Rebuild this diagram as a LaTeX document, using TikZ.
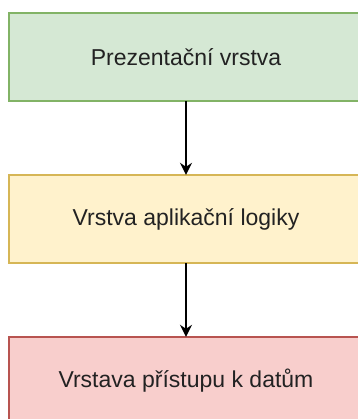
\documentclass[tikz,border=0pt]{standalone}
\usepackage{fontspec}
\setmainfont{Liberation Sans}
\usetikzlibrary{arrows.meta}
\definecolor{greenfill}{HTML}{D5E8D4}
\definecolor{greenline}{HTML}{82B366}
\definecolor{yellowfill}{HTML}{FFF2CC}
\definecolor{yellowline}{HTML}{D6B656}
\definecolor{redfill}{HTML}{F8CECC}
\definecolor{redline}{HTML}{B85450}
\definecolor{textgray}{HTML}{222222}
\tikzset{
  panel/.style={line width=1.6pt},
  layer/.style={rectangle, minimum width=356pt, minimum height=88pt,
    inner sep=0pt, font=\fontsize{23}{27}\selectfont, text=textgray},
  link/.style={line width=1.6pt, -{Stealth[length=12pt, width=12pt, inset=4pt]}}
}
\begin{document}
\begin{tikzpicture}[x=1pt, y=1pt]
  \useasboundingbox (0,0) rectangle (357,-419);
  % layer panels, running past the right and bottom edges of the page
  \fill[greenfill] (9,-13) rectangle (380,-101);
  \draw[panel, greenline] (380,-13) -- (9,-13) -- (9,-101) -- (380,-101);
  \fill[yellowfill] (9,-175) rectangle (380,-263);
  \draw[panel, yellowline] (380,-175) -- (9,-175) -- (9,-263) -- (380,-263);
  \fill[redfill] (9,-337) rectangle (380,-440);
  \draw[panel, redline] (380,-337) -- (9,-337) -- (9,-440);
  % layer labels
  \node[layer] (pres) at (186,-57) {Prezentační vrstva};
  \node[layer] (app) at (186,-219) {Vrstva aplikační logiky};
  \node[layer] (data) at (186,-381) {Vrstava přístupu k datům};
  \draw[link] (pres) -- (app);
  \draw[link] (app) -- (data);
\end{tikzpicture}
\end{document}
